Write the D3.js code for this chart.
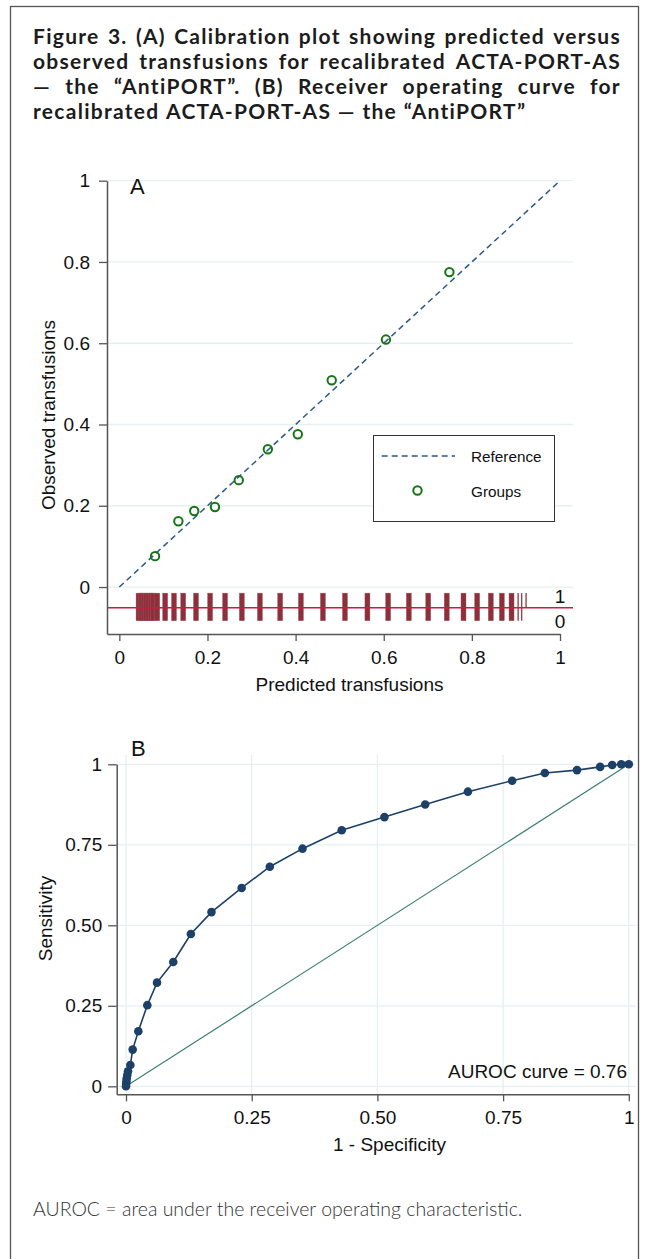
<!DOCTYPE html>
<html><head><meta charset="utf-8">
<script src="https://cdn.jsdelivr.net/npm/d3@7/dist/d3.min.js"></script>
<style>body{margin:0;background:#fff}svg{display:block}</style>
</head><body>
<svg id="c" width="649" height="1259"></svg>
<script>
// ---------- data ----------
const titleLines = [
  "Figure 3. (A) Calibration plot showing predicted versus",
  "observed transfusions for recalibrated ACTA-PORT-AS",
  "— the “AntiPORT”. (B) Receiver operating curve for",
  "recalibrated ACTA-PORT-AS — the “AntiPORT”"
];
const footnoteText = "AUROC = area under the receiver operating characteristic.";

const calibTicks = [0, 0.2, 0.4, 0.6, 0.8, 1];
const calibTickLabels = ["0", "0.2", "0.4", "0.6", "0.8", "1"];
const groupPredicted = [0.081, 0.134, 0.170, 0.217, 0.271, 0.337, 0.405, 0.482, 0.605, 0.749];
const groupObserved  = [0.076, 0.162, 0.187, 0.197, 0.263, 0.339, 0.376, 0.509, 0.609, 0.775];
const referenceLine = [0, 1];
const rugBoth = [0.0436, 0.049, 0.055, 0.061, 0.066, 0.072, 0.0765, 0.086, 0.104, 0.124, 0.145,
  0.174, 0.206, 0.240, 0.278, 0.319, 0.365, 0.412, 0.462, 0.512, 0.563, 0.610, 0.657, 0.701,
  0.743, 0.781, 0.812, 0.843, 0.868, 0.890];
const rugThinBoth = [0.905, 0.913];
const rugThinEventOnly = [0.923];
const rugLabels = ["1", "0"];
const legendLabels = ["Reference", "Groups"];

const rocTicks = [0, 0.25, 0.5, 0.75, 1];
const rocTickLabels = ["0", "0.25", "0.50", "0.75", "1"];
const rocFPR = [0, 0.0004, 0.0009, 0.0015, 0.0025, 0.004, 0.0086, 0.0133, 0.0245, 0.0424, 0.0617,
  0.094, 0.129, 0.170, 0.230, 0.286, 0.351, 0.429, 0.514, 0.595, 0.680, 0.768, 0.833, 0.897,
  0.943, 0.967, 0.985, 1];
const rocTPR = [0, 0.008, 0.016, 0.025, 0.035, 0.047, 0.066, 0.114, 0.171, 0.252, 0.322,
  0.386, 0.473, 0.541, 0.616, 0.682, 0.738, 0.795, 0.836, 0.875, 0.915, 0.949, 0.973, 0.982,
  0.992, 0.998, 1.0, 1];
const aurocLabel = "AUROC curve = 0.76";

// ---------- setup ----------
const svg = d3.select("#c");
const AX = "'Liberation Sans', Arial, sans-serif";
const axisColor = "#555";
const gridColor = "#e6eff1";

svg.append("rect").attr("x", 10.5).attr("y", 6.5).attr("width", 628).attr("height", 1262)
  .attr("fill", "none").attr("stroke", "#555").attr("stroke-width", 1.3);

// ---------- title (justified) ----------
const tG = svg.append("g").attr("font-family", "Lato, 'Noto Sans', sans-serif")
  .attr("font-weight", "bold").attr("fill", "#1c1c1c");
const tLeft = 33, tWidth = 588, lastLineWidth = 492;
tG.attr("font-size", 20);
const probe = tG.append("text").attr("x", 0).attr("y", -50).text(titleLines[3]);
const natural = probe.node().getComputedTextLength();
const tSize = Math.max(18.5, Math.min(21, 20 * lastLineWidth / natural));
tG.attr("font-size", tSize);
let ls = 0;
for (let k = 0; k < 3; k++) {
  tG.attr("letter-spacing", ls);
  const w = probe.node().getComputedTextLength();
  ls = Math.max(0, Math.min(1.4, ls + (lastLineWidth - w) / titleLines[3].length));
}
probe.remove();
tG.attr("letter-spacing", ls);
titleLines.forEach((line, i) => {
  const words = line.split(" ");
  const nodes = words.map(w => tG.append("text").attr("y", 44 + i * 25).text(w));
  const widths = nodes.map(n => n.node().getComputedTextLength());
  const total = d3.sum(widths);
  let gap = tSize * 0.25 + ls;
  if (i < titleLines.length - 1) gap = (tWidth - total) / (words.length - 1);
  let x = tLeft;
  nodes.forEach((n, j) => { n.attr("x", x); x += widths[j] + gap; });
});

// ---------- Panel A ----------
const xA = d3.scaleLinear().domain([-0.028, 1]).range([107, 560]);
const yA = d3.scaleLinear().domain([-0.1156, 1]).range([634, 180.7]);
const gA = svg.append("g");

gA.append("g").selectAll("line").data(calibTicks).join("line")
  .attr("x1", 107).attr("x2", 573).attr("y1", d => yA(d)).attr("y2", d => yA(d))
  .attr("stroke", gridColor).attr("stroke-width", 1.3);

// rug
const rugTop = yA(-0.015), rugMid = yA(-0.051), rugBot = yA(-0.083);
gA.append("g").selectAll("rect").data(rugBoth).join("rect")
  .attr("x", d => xA(d) - 2.5).attr("width", 5).attr("y", rugTop).attr("height", rugBot - rugTop)
  .attr("fill", "#8e303b").attr("stroke", "#a65560").attr("stroke-width", 0.4);
gA.append("g").selectAll("line").data(rugThinBoth).join("line")
  .attr("x1", d => xA(d)).attr("x2", d => xA(d)).attr("y1", rugTop).attr("y2", rugBot)
  .attr("stroke", "#9a4450").attr("stroke-width", 1.4);
gA.append("g").selectAll("line").data(rugThinEventOnly).join("line")
  .attr("x1", d => xA(d)).attr("x2", d => xA(d)).attr("y1", rugTop).attr("y2", rugMid)
  .attr("stroke", "#9a4450").attr("stroke-width", 1.4);
gA.append("line").attr("x1", 107).attr("x2", 573).attr("y1", rugMid).attr("y2", rugMid)
  .attr("stroke", "#d2173f").attr("stroke-width", 1.6);
gA.selectAll("text.rugl").data(rugLabels).join("text").attr("class", "rugl")
  .attr("x", xA(1)).attr("y", (d, i) => i === 0 ? 603 : 628).attr("text-anchor", "middle")
  .attr("font-family", AX).attr("font-size", 19).attr("fill", "#111").text(d => d);

// reference line
gA.append("line").attr("x1", xA(referenceLine[0])).attr("y1", yA(referenceLine[0]))
  .attr("x2", xA(referenceLine[1])).attr("y2", yA(referenceLine[1]))
  .attr("stroke", "#2b5a86").attr("stroke-width", 1.5).attr("stroke-dasharray", "6,4");

// groups
gA.append("g").selectAll("circle").data(groupPredicted).join("circle")
  .attr("cx", d => xA(d)).attr("cy", (d, i) => yA(groupObserved[i])).attr("r", 4.2)
  .attr("fill", "none").attr("stroke", "#157515").attr("stroke-width", 2);

function styleAxis(g) {
  g.select(".domain").attr("stroke", axisColor).attr("stroke-width", 1.5);
  g.selectAll(".tick line").attr("stroke", axisColor).attr("stroke-width", 1.3);
  g.selectAll(".tick text").attr("font-family", AX).attr("font-size", 19).attr("fill", "#111");
}
gA.append("g").attr("transform", "translate(107,0)")
  .call(d3.axisLeft(yA).tickValues(calibTicks).tickFormat((d, i) => calibTickLabels[i])
    .tickSize(8).tickPadding(9).tickSizeOuter(0)).call(styleAxis);
gA.append("g").attr("transform", "translate(0,634)")
  .call(d3.axisBottom(xA).tickValues(calibTicks).tickFormat((d, i) => calibTickLabels[i])
    .tickSize(7).tickPadding(10).tickSizeOuter(0)).call(styleAxis);

gA.append("text").attr("x", 349.5).attr("y", 691).attr("text-anchor", "middle")
  .attr("font-family", AX).attr("font-size", 19).attr("fill", "#111").text("Predicted transfusions");
gA.append("text").attr("transform", "translate(55,415) rotate(-90)").attr("text-anchor", "middle")
  .attr("font-family", AX).attr("font-size", 19).attr("fill", "#111").text("Observed transfusions");
gA.append("text").attr("x", 130).attr("y", 193.5)
  .attr("font-family", AX).attr("font-size", 22).attr("fill", "#111").text("A");

// legend
const lg = gA.append("g");
lg.append("rect").attr("x", 373.5).attr("y", 435.5).attr("width", 181).attr("height", 86)
  .attr("fill", "#fff").attr("stroke", "#333").attr("stroke-width", 1);
lg.append("line").attr("x1", 381.7).attr("x2", 455).attr("y1", 456).attr("y2", 456)
  .attr("stroke", "#2b5a86").attr("stroke-width", 1.5).attr("stroke-dasharray", "6,4");
lg.append("circle").attr("cx", 417.5).attr("cy", 490.5).attr("r", 4.2)
  .attr("fill", "none").attr("stroke", "#157515").attr("stroke-width", 2);
lg.selectAll("text").data(legendLabels).join("text")
  .attr("x", 471).attr("y", (d, i) => i === 0 ? 462 : 497)
  .attr("font-family", AX).attr("font-size", 15.3).attr("fill", "#111").text(d => d);

// ---------- Panel B ----------
const xB = d3.scaleLinear().domain([-0.0185, 1]).range([116.7, 628.8]);
const yB = d3.scaleLinear().domain([-0.0248, 1]).range([1094.3, 764.3]);
const gB = svg.append("g");

gB.append("g").selectAll("line").data(rocTicks).join("line")
  .attr("x1", 116.7).attr("x2", 636).attr("y1", d => yB(d)).attr("y2", d => yB(d))
  .attr("stroke", gridColor).attr("stroke-width", 1.3);
gB.append("g").selectAll("line").data(rocTicks).join("line")
  .attr("x1", d => xB(d)).attr("x2", d => xB(d)).attr("y1", 755).attr("y2", 1094.3)
  .attr("stroke", gridColor).attr("stroke-width", 1.3);

gB.append("line").attr("x1", xB(0)).attr("y1", yB(0)).attr("x2", xB(1)).attr("y2", yB(1))
  .attr("stroke", "#3a7e70").attr("stroke-width", 1.2);

const rocPts = rocFPR.map((f, i) => [f, rocTPR[i]]);
gB.append("path").datum(rocPts)
  .attr("d", d3.line().x(d => xB(d[0])).y(d => yB(d[1])))
  .attr("fill", "none").attr("stroke", "#1d4068").attr("stroke-width", 1.6);
gB.append("g").selectAll("circle").data(rocPts).join("circle")
  .attr("cx", d => xB(d[0])).attr("cy", d => yB(d[1])).attr("r", 4.3).attr("fill", "#1d4068");

gB.append("g").attr("transform", "translate(116.7,0)")
  .call(d3.axisLeft(yB).tickValues(rocTicks).tickFormat((d, i) => rocTickLabels[i])
    .tickSize(8.5).tickPadding(6).tickSizeOuter(0)).call(styleAxis);
gB.append("g").attr("transform", "translate(0,1094.3)")
  .call(d3.axisBottom(xB).tickValues(rocTicks).tickFormat((d, i) => rocTickLabels[i])
    .tickSize(7).tickPadding(9).tickSizeOuter(0)).call(styleAxis);

gB.append("text").attr("x", 389.5).attr("y", 1151).attr("text-anchor", "middle")
  .attr("font-family", AX).attr("font-size", 19).attr("fill", "#111").text("1 - Specificity");
gB.append("text").attr("transform", "translate(52,918.5) rotate(-90)").attr("text-anchor", "middle")
  .attr("font-family", AX).attr("font-size", 19).attr("fill", "#111").text("Sensitivity");
gB.append("text").attr("x", 131).attr("y", 756)
  .attr("font-family", AX).attr("font-size", 22).attr("fill", "#111").text("B");
gB.append("text").attr("x", 627).attr("y", 1078).attr("text-anchor", "end")
  .attr("font-family", AX).attr("font-size", 19).attr("fill", "#111").text(aurocLabel);

// ---------- footnote ----------
const fn = svg.append("text").attr("x", 33).attr("y", 1216)
  .attr("font-family", "Lato, 'Open Sans', sans-serif").attr("font-weight", 300)
  .attr("fill", "#333").text(footnoteText);
let fSize = 17.5;
for (let k = 0; k < 3; k++) {
  fn.attr("font-size", fSize);
  const fw = fn.node().getComputedTextLength();
  fSize = Math.max(15, Math.min(19.5, fSize * 492 / fw));
}
fn.attr("font-size", fSize);
</script>
</body></html>
